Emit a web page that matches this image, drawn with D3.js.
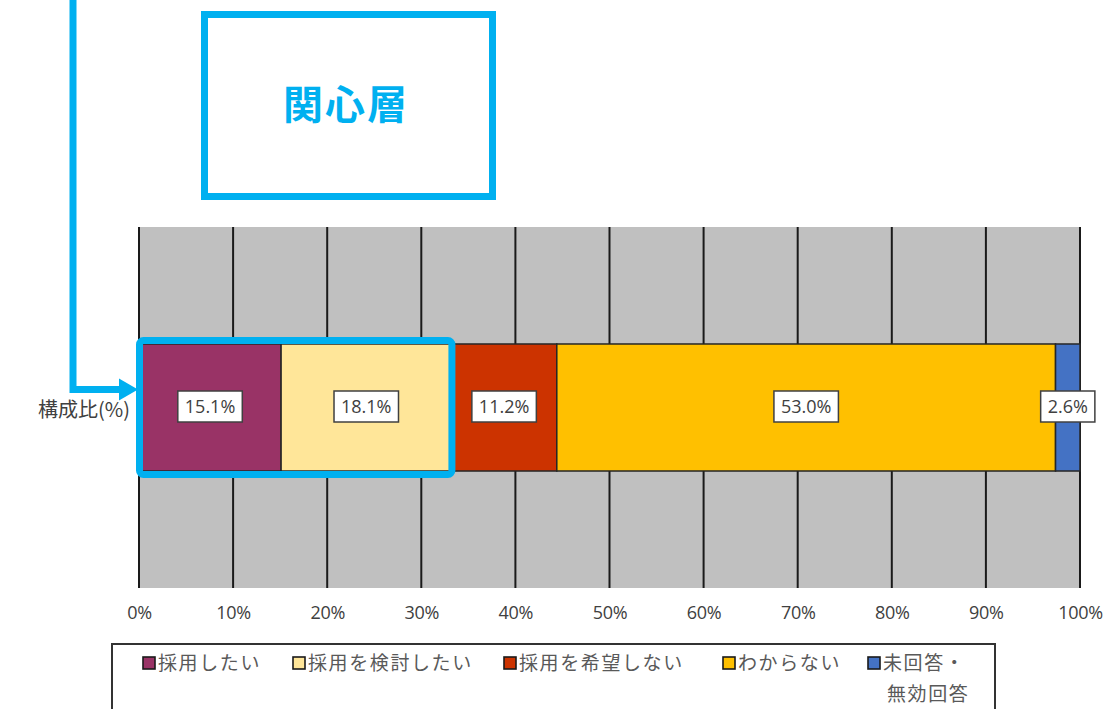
<!DOCTYPE html>
<html><head><meta charset="utf-8">
<script src="https://cdn.jsdelivr.net/npm/d3@7"></script>
<style>
html,body{margin:0;padding:0;background:#fff;}
svg{display:block;}
</style></head>
<body>
<svg id="chart" width="1106" height="709"></svg>
<script>
// ---- data ----
const categories = ["構成比(%)"];
const seriesNames = ["採用したい", "採用を検討したい", "採用を希望しない", "わからない", "未回答・\n無効回答"];
const seriesValues = [15.1, 18.1, 11.2, 53.0, 2.6];
const seriesColors = ["#993366", "#FFE699", "#CC3300", "#FFC000", "#4472C4"];
const tickValues = [0, 10, 20, 30, 40, 50, 60, 70, 80, 90, 100];
const titleText = "関心層";

// ---- layout ----
const svg = d3.select("#chart");
const plot = {left: 139, right: 1080, top: 227, bottom: 588};
const accent = "#00B0F0";
const jpFont = "'Noto Sans CJK JP', 'Noto Sans', sans-serif";
const numFont = "'Open Sans', 'Noto Sans', sans-serif";

const x = d3.scaleLinear().domain([0, 100]).range([plot.left, plot.right]);
const y = d3.scaleBand().domain(categories).range([plot.top, plot.bottom]).paddingInner(0).paddingOuter(0.921);

// plot background
svg.append("rect").attr("x", plot.left).attr("y", plot.top)
  .attr("width", plot.right - plot.left).attr("height", plot.bottom - plot.top)
  .attr("fill", "#C0C0C0");

// vertical gridlines
svg.append("g").selectAll("line").data(tickValues).join("line")
  .attr("x1", d => x(d)).attr("x2", d => x(d))
  .attr("y1", plot.top).attr("y2", plot.bottom)
  .attr("stroke", "#1a1a1a").attr("stroke-width", 2);

// stacked segments
let acc = 0;
const segs = seriesValues.map((v, i) => { const s = {i, v, x0: acc, x1: acc + v}; acc += v; return s; });

categories.forEach(cat => {
  const g = svg.append("g");
  g.selectAll("rect").data(segs).join("rect")
    .attr("x", d => x(d.x0)).attr("width", d => x(d.x1) - x(d.x0))
    .attr("y", y(cat)).attr("height", y.bandwidth())
    .attr("fill", d => seriesColors[d.i])
    .attr("stroke", "#262626").attr("stroke-width", 1.5);

  // labels
  const lg = g.selectAll("g.lab").data(segs).join("g").attr("class", "lab")
    .attr("transform", d => `translate(${(x(d.x0) + x(d.x1)) / 2},${y(cat) + y.bandwidth() / 2 - 1})`);
  lg.each(function(d) {
    const gg = d3.select(this);
    const t = gg.append("text").text(d.v.toFixed(1) + "%")
      .attr("text-anchor", "middle").attr("dy", "0.35em")
      .attr("font-family", numFont).attr("font-size", 18).attr("fill", "#404040");
    const w = t.node().getComputedTextLength();
    gg.insert("rect", "text").attr("x", -w / 2 - 7).attr("y", -15.5)
      .attr("width", w + 14).attr("height", 31)
      .attr("fill", "#fff").attr("stroke", "#404040").attr("stroke-width", 1.5);
  });
});

// category axis label
svg.append("text").attr("x", 130).attr("y", y(categories[0]) + y.bandwidth() / 2 + 2)
  .attr("text-anchor", "end").attr("dy", "0.35em")
  .attr("font-family", jpFont).attr("font-size", 20).attr("fill", "#404040")
  .text(categories[0]);

// x axis
const xAxis = d3.axisBottom(x).tickValues(tickValues).tickFormat(d => d + "%").tickSize(0).tickPadding(0);
const ax = svg.append("g").attr("transform", `translate(0,${plot.bottom + 18})`).call(xAxis);
ax.select(".domain").remove();
ax.selectAll("text").attr("font-family", numFont).attr("font-size", 18).attr("fill", "#404040")
  .attr("letter-spacing", -0.3);

// legend
const legend = svg.append("g");
legend.append("rect").attr("x", 112).attr("y", 644).attr("width", 883).attr("height", 80)
  .attr("fill", "#fff").attr("stroke", "#333").attr("stroke-width", 2);
const legendX = [143, 293, 504, 723, 868];
seriesNames.forEach((name, i) => {
  const lg = legend.append("g").attr("transform", `translate(${legendX[i]},663)`);
  lg.append("rect").attr("x", 0).attr("y", -6).attr("width", 12).attr("height", 12)
    .attr("fill", seriesColors[i]).attr("stroke", "#1a1a1a").attr("stroke-width", 1.6);
  const lines = name.split("\n");
  lines.forEach((ln, j) => {
    lg.append("text").attr("x", j === 0 ? 15 : 19).attr("y", j * 31).attr("dy", "0.35em")
      .attr("font-family", jpFont).attr("font-size", 19).attr("fill", "#595959")
      .attr("letter-spacing", 1.6).text(ln);
  });
});

// title box
svg.append("rect").attr("x", 204.5).attr("y", 14.5).attr("width", 288).attr("height", 182)
  .attr("fill", "#fff").attr("stroke", accent).attr("stroke-width", 7);
svg.append("text").attr("x", 346).attr("y", 105).attr("dy", "0.35em").attr("text-anchor", "middle")
  .attr("font-family", jpFont).attr("font-weight", 700).attr("font-size", 40)
  .attr("fill", accent).attr("letter-spacing", 2).text(titleText);

// highlight box around first two segments
svg.append("rect").attr("x", x(0) + 0.5).attr("y", y(categories[0]) - 3.5)
  .attr("width", x(segs[1].x1) - x(0)).attr("height", y.bandwidth() + 7)
  .attr("rx", 4).attr("fill", "none").attr("stroke", accent).attr("stroke-width", 7);

// connector arrow
const ay = 389.5;
svg.append("path").attr("d", `M73,0 L73,${ay} L121,${ay}`)
  .attr("fill", "none").attr("stroke", accent).attr("stroke-width", 7).attr("stroke-linejoin", "miter");
svg.append("path").attr("d", `M119,${ay - 11} L138,${ay} L119,${ay + 11} Z`).attr("fill", accent);
</script>
</body></html>
